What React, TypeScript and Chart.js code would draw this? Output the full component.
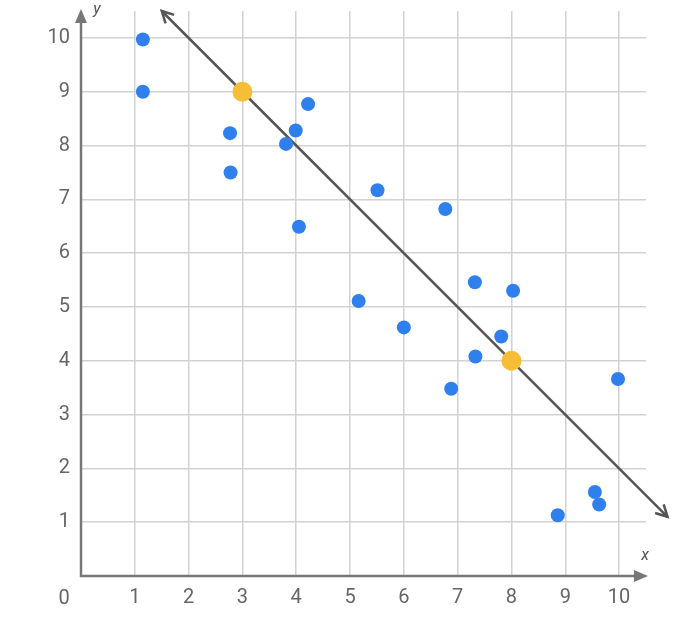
import React, { useEffect, useRef } from "react";
import { Chart, registerables } from "chart.js";

Chart.register(...registerables);

const blueX = [1.15, 1.15, 4.22, 2.77, 3.99, 3.81, 2.78, 5.51, 4.05, 6.77, 7.32, 8.03, 5.16, 6.0, 7.81, 7.33, 6.88, 9.98, 8.86, 9.55, 9.63];
const blueY = [9.97, 9.0, 8.77, 8.23, 8.28, 8.03, 7.5, 7.17, 6.49, 6.82, 5.46, 5.3, 5.11, 4.62, 4.45, 4.08, 3.48, 3.66, 1.13, 1.56, 1.33];
const yellowX = [3, 8];
const yellowY = [9, 4];
const lineX = [1.5, 10.9];
const lineY = [10.5, 1.1];
const tickValues = [1, 2, 3, 4, 5, 6, 7, 8, 9, 10];
const axisMin = 0;
const axisMax = 10.5;
const originLabel = "0";
const xAxisTitle = "x";
const yAxisTitle = "y";

const AXIS_COLOR = "#777777";
const TEXT_COLOR = "#666666";
const FONT = "Roboto";

const overlayPlugin = {
  id: "overlay",
  afterDatasetsDraw(chart: any) {
    const { ctx } = chart;
    ctx.save();
    const meta = chart.getDatasetMeta(0);
    const pts = meta.data;
    if (pts && pts.length >= 2) {
      const a = pts[0];
      const b = pts[pts.length - 1];
      const drawHead = (tip: any, from: any) => {
        const ang = Math.atan2(tip.y - from.y, tip.x - from.x);
        const len = 13;
        const spread = Math.PI / 6.5;
        ctx.beginPath();
        ctx.moveTo(tip.x - len * Math.cos(ang - spread), tip.y - len * Math.sin(ang - spread));
        ctx.lineTo(tip.x, tip.y);
        ctx.lineTo(tip.x - len * Math.cos(ang + spread), tip.y - len * Math.sin(ang + spread));
        ctx.strokeStyle = "#555555";
        ctx.lineWidth = 2.5;
        ctx.lineJoin = "miter";
        ctx.stroke();
      };
      drawHead(a, b);
      drawHead(b, a);
    }
    ctx.restore();
  },
  beforeDatasetsDraw(chart: any) {
    const { ctx, chartArea } = chart;
    const { left, right, top, bottom } = chartArea;
    ctx.save();
    ctx.strokeStyle = AXIS_COLOR;
    ctx.fillStyle = AXIS_COLOR;
    ctx.lineWidth = 2.5;
    // x axis
    ctx.beginPath();
    ctx.moveTo(left - 1, bottom);
    ctx.lineTo(right - 8, bottom);
    ctx.stroke();
    ctx.beginPath();
    ctx.moveTo(right + 2, bottom);
    ctx.lineTo(right - 12, bottom - 6);
    ctx.lineTo(right - 12, bottom + 6);
    ctx.closePath();
    ctx.fill();
    // y axis
    ctx.beginPath();
    ctx.moveTo(left, bottom + 1);
    ctx.lineTo(left, top + 8);
    ctx.stroke();
    ctx.beginPath();
    ctx.moveTo(left, top - 2);
    ctx.lineTo(left - 6, top + 12);
    ctx.lineTo(left + 6, top + 12);
    ctx.closePath();
    ctx.fill();
    // texts
    ctx.fillStyle = TEXT_COLOR;
    ctx.font = `20px ${FONT}`;
    ctx.textAlign = "center";
    ctx.textBaseline = "middle";
    ctx.fillText(originLabel, left - 17, bottom + 23);
    ctx.font = `italic 16px ${FONT}`;
    ctx.fillStyle = "#555555";
    ctx.fillText(xAxisTitle, right - 1, bottom - 20);
    ctx.fillText(yAxisTitle, left + 16, top - 1);
    ctx.restore();
  },
};

export default function App() {
  const canvasRef = useRef<HTMLCanvasElement | null>(null);

  useEffect(() => {
    if (!canvasRef.current) return;
    const keepTicks = (scale: any) => {
      scale.ticks = tickValues.map((v) => ({ value: v }));
    };
    const chart = new Chart(canvasRef.current, {
      type: "scatter",
      data: {
        datasets: [
          {
            type: "line",
            data: lineX.map((x, i) => ({ x, y: lineY[i] })),
            borderColor: "#555555",
            borderWidth: 2.5,
            pointRadius: 0,
            showLine: true,
            clip: false as any,
            order: 3,
          } as any,
          {
            data: blueX.map((x, i) => ({ x, y: blueY[i] })),
            backgroundColor: "#2F80ED",
            borderWidth: 0,
            pointRadius: 7,
            order: 2,
          },
          {
            data: yellowX.map((x, i) => ({ x, y: yellowY[i] })),
            backgroundColor: "#F6BE34",
            borderWidth: 0,
            pointRadius: 10,
            order: 1,
          },
        ],
      },
      options: {
        animation: false,
        responsive: true,
        maintainAspectRatio: false,
        layout: { padding: { top: 11, right: 35, left: 0, bottom: 0 } },
        plugins: {
          legend: { display: false },
          tooltip: { enabled: false },
        },
        scales: {
          x: {
            type: "linear",
            min: axisMin,
            max: axisMax,
            afterBuildTicks: keepTicks,
            afterFit: (scale: any) => {
              scale.height = 53;
              scale.paddingLeft = 0;
              scale.paddingRight = 0;
            },
            border: { display: false },
            grid: { color: "#d2d2d2", lineWidth: 1.5, drawTicks: false },
            ticks: {
              color: TEXT_COLOR,
              font: { family: FONT, size: 20 },
              padding: 10,
              maxRotation: 0,
              autoSkip: false,
            },
          },
          y: {
            type: "linear",
            min: axisMin,
            max: axisMax,
            afterBuildTicks: keepTicks,
            afterFit: (scale: any) => {
              scale.width = 81;
              scale.paddingTop = 0;
              scale.paddingBottom = 0;
            },
            border: { display: false },
            grid: { color: "#d2d2d2", lineWidth: 1.5, drawTicks: false },
            ticks: {
              color: TEXT_COLOR,
              font: { family: FONT, size: 20 },
              padding: 11,
              autoSkip: false,
            },
          },
        },
      },
      plugins: [overlayPlugin],
    } as any);
    return () => chart.destroy();
  }, []);

  return (
    <div style={{ position: "fixed", left: 0, top: 0, width: 681, height: 629, background: "#ffffff" }}>
      <canvas ref={canvasRef} />
    </div>
  );
}
